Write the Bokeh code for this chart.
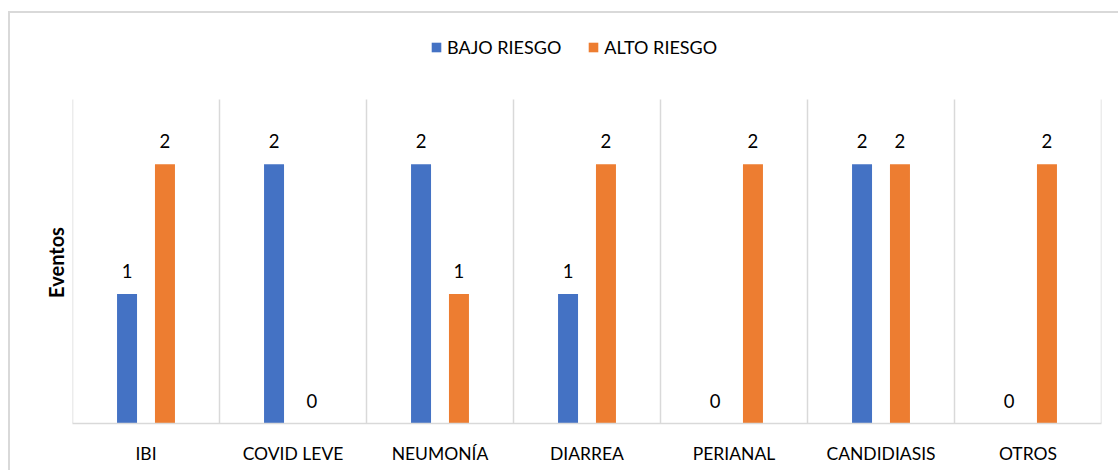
from bokeh.plotting import figure
from bokeh.models import ColumnDataSource, FixedTicker, LabelSet, Legend, LegendItem
from bokeh.core.properties import value
from bokeh.transform import dodge
from bokeh.embed import file_html
from bokeh.resources import INLINE

categories = ["IBI", "COVID LEVE", "NEUMONÍA", "DIARREA", "PERIANAL", "CANDIDIASIS", "OTROS"]
bajo_riesgo = [1, 2, 2, 1, 0, 2, 0]
alto_riesgo = [2, 0, 1, 2, 2, 2, 2]
series_names = ["BAJO RIESGO", "ALTO RIESGO"]
y_title = "Eventos"
y_max = 2.5

BLUE = "#4472C4"
ORANGE = "#ED7D31"
GRID = "#D9D9D9"
FONT = "Lato"

idx = list(range(len(categories)))
src = ColumnDataSource(dict(x=idx, bajo=bajo_riesgo, alto=alto_riesgo,
                            bajo_t=[str(v) for v in bajo_riesgo],
                            alto_t=[str(v) for v in alto_riesgo]))

# figure sits inside a 2px border starting at page (8, 11); canvas starts at (10, 13)
W, H = 1110, 459
frame_top, frame_bottom = 20, 49          # borders of the frame in canvas px
plot_top = 86                              # canvas y where the value y_max sits
frame_h = H - frame_top - frame_bottom
px_per_unit = (H - frame_bottom - plot_top) / y_max
y_end = y_max + (plot_top - frame_top) / px_per_unit

p = figure(width=W, height=H, x_range=(-0.5, len(categories) - 0.5), y_range=(0, y_end),
           output_backend="svg", toolbar_location=None,
           min_border_left=62, min_border_right=19,
           min_border_top=frame_top, min_border_bottom=frame_bottom)
p.margin = (11, 0, 0, 8)
p.styles = {"border-top": "2px solid #D9D9D9", "border-left": "2px solid #D9D9D9"}
p.outline_line_color = None
p.background_fill_color = "white"
p.border_fill_color = "white"
p.xgrid.grid_line_color = None
p.ygrid.grid_line_color = None

# category separators (vertical grid) from 0 to y_max
bounds = [i - 0.5 for i in range(len(categories) + 1)]
p.segment(x0=bounds, y0=[0] * len(bounds), x1=bounds, y1=[y_max] * len(bounds),
          line_color=GRID, line_width=1.5)

off = 0.129
bw = 0.136
r1 = p.vbar(x=dodge("x", -off), top="bajo", width=bw, source=src, color=BLUE, line_color=None)
r2 = p.vbar(x=dodge("x", off), top="alto", width=bw, source=src, color=ORANGE, line_color=None)

for col, o in (("bajo", -off), ("alto", off)):
    p.add_layout(LabelSet(x=dodge("x", o), y=col, text=col + "_t", source=src,
                          text_align="center", text_baseline="middle", y_offset=23,
                          text_font=value(FONT), text_font_size=value("18.5px"),
                          text_color="#000000"))

# x axis
p.xaxis.ticker = FixedTicker(ticks=idx)
p.xaxis.major_label_overrides = {i: c for i, c in enumerate(categories)}
p.xaxis.major_tick_line_color = None
p.xaxis.minor_tick_line_color = None
p.xaxis.axis_line_color = GRID
p.xaxis.axis_line_width = 1.5
p.xaxis.major_label_text_font = FONT
p.xaxis.major_label_text_font_size = "17.5px"
p.xaxis.major_label_text_color = "#000000"
p.xaxis.major_label_standoff = 13

# y axis (title centred on the value area, not the whole frame)
p.yaxis.ticker = FixedTicker(ticks=[])
p.yaxis.axis_line_color = None
p.yaxis.major_tick_line_color = None
p.yaxis.minor_tick_line_color = None
p.yaxis.axis_label = y_title + "\u00a0" * 14
p.yaxis.axis_label_text_font = FONT
p.yaxis.axis_label_text_font_style = "bold"
p.yaxis.axis_label_text_font_size = "20px"
p.yaxis.axis_label_text_color = "#000000"
p.yaxis.axis_label_standoff = 5

legend = Legend(items=[LegendItem(label=series_names[0], renderers=[r1]),
                       LegendItem(label=series_names[1], renderers=[r2])],
                orientation="horizontal", location=(358, frame_h - 25),
                glyph_width=12, glyph_height=12, label_standoff=5, spacing=26,
                label_height=22,
                padding=0, margin=0, label_text_font=FONT, label_text_font_size="18px",
                label_text_color="#000000", border_line_color=None,
                background_fill_alpha=0)
p.add_layout(legend, "center")

open("out.html", "w").write(file_html(p, INLINE))
